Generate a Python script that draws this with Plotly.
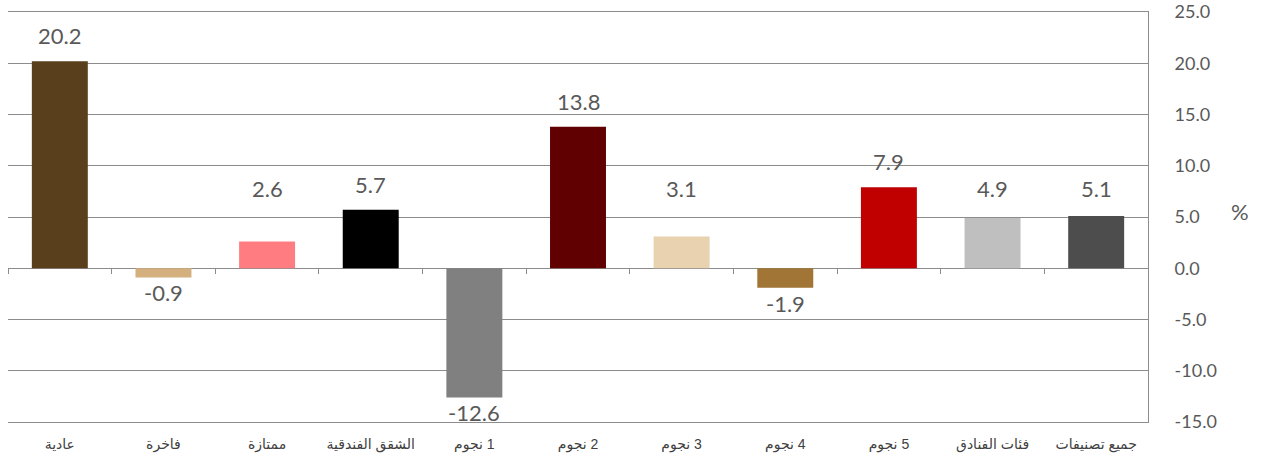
import plotly.graph_objects as go

categories = ["عادية", "فاخرة", "ممتازة", "الشقق الفندقية", "1 نجوم", "2 نجوم",
              "3 نجوم", "4 نجوم", "5 نجوم", "فئات الفنادق", "جميع تصنيفات"]
values = [20.2, -0.9, 2.6, 5.7, -12.6, 13.8, 3.1, -1.9, 7.9, 4.9, 5.1]
colors = ["#5A3F1C", "#D4B07E", "#FF7C80", "#000000", "#808080", "#600000",
          "#E8D2B0", "#A07535", "#C00000", "#BFBFBF", "#4D4D4D"]
y_ticks = [-15, -10, -5, 0, 5, 10, 15, 20, 25]

# RLM prefix so mixed digit/Arabic labels render in right-to-left order
tick_text = ["\u200f" + c for c in categories]
y_tick_text = [f"{t:.1f}" for t in y_ticks]

grid_color = "#8C8C8C"
num_font = "Lato, Open Sans, sans-serif"
label_color = "#595959"

fig_w, fig_h = 1261, 463
plot_left, plot_right, plot_top, plot_bottom = 8, 1148, 12, 422

fig = go.Figure()
fig.add_trace(go.Bar(
    x=categories, y=values, marker=dict(color=colors, line=dict(width=0)),
    hoverinfo="x+y", showlegend=False,
))
# invisible trace to carry the zero-line boundary tick marks
fig.add_trace(go.Scatter(
    x=categories, y=values, xaxis="x2", mode="markers",
    marker=dict(opacity=0), hoverinfo="skip", showlegend=False,
))

annotations = []
for c, v in zip(categories, values):
    if v >= 0:
        ypos = max(v + 2.5, 7.8)
    else:
        ypos = v - 1.5
    annotations.append(dict(
        x=c, y=ypos, xref="x", yref="y", text=f"{v:.1f}", showarrow=False,
        font=dict(family=num_font, size=22, color=label_color),
        xanchor="center", yanchor="middle",
    ))
annotations.append(dict(
    x=(1240 - plot_left) / (plot_right - plot_left),
    y=(plot_bottom - 211) / (plot_bottom - plot_top),
    xref="paper", yref="paper", text="%", showarrow=False,
    xanchor="center", yanchor="middle",
    font=dict(family=num_font, size=22, color=label_color),
))

fig.update_layout(
    width=fig_w, height=fig_h,
    margin=dict(l=plot_left, r=fig_w - plot_right, t=plot_top, b=fig_h - plot_bottom,
                autoexpand=False),
    paper_bgcolor="white", plot_bgcolor="white",
    bargap=0.46,
    annotations=annotations,
    xaxis=dict(
        type="category", categoryorder="array", categoryarray=categories,
        tickvals=categories, ticktext=tick_text,
        range=[-0.5, len(categories) - 0.5],
        showgrid=False, zeroline=False,
        showline=True, mirror=True, linecolor=grid_color, linewidth=1,
        ticks="", automargin=False,
        ticklabelstandoff=9,
        tickfont=dict(family="Liberation Sans, DejaVu Sans, Arial, sans-serif",
                      size=14, color="#404040"),
    ),
    xaxis2=dict(
        type="category", categoryorder="array", categoryarray=categories,
        overlaying="x", anchor="free", position=15 / 40,
        range=[-0.5, len(categories) - 0.5],
        showgrid=False, zeroline=False, showline=False,
        ticks="outside", tickson="boundaries", ticklen=5, tickcolor=grid_color,
        tickwidth=1, showticklabels=False, automargin=False,
    ),
    yaxis=dict(
        side="right", range=[-15, 25], tickvals=y_ticks, ticktext=y_tick_text,
        showgrid=True, gridcolor=grid_color, gridwidth=1,
        zeroline=False, showline=True, linecolor=grid_color, linewidth=1,
        ticks="", ticklabelstandoff=22, automargin=False,
        ticklabeloverflow="allow",
        tickfont=dict(family=num_font, size=18, color=label_color),
    ),
)

# remove the default 8px page margin so the figure sits at the window origin
fig.write_html("out.html", config={"displayModeBar": False},
               post_script="document.body.style.margin='0';")
